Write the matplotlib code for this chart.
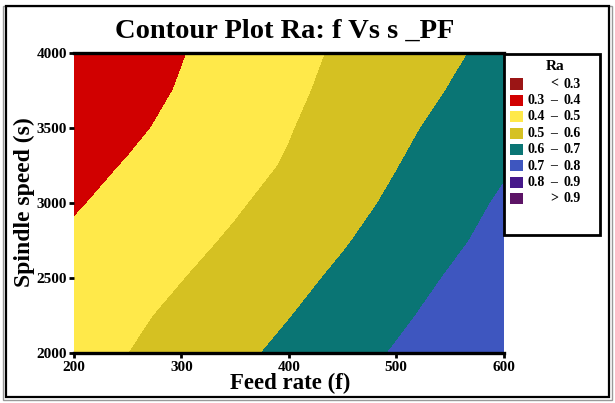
import numpy as np
import matplotlib

matplotlib.use('Agg')
import matplotlib.pyplot as plt
from matplotlib.patches import Rectangle

# feed rate (x) and spindle speed (y) grid, Ra values
feed = [200, 250, 300, 350, 400, 450, 500, 550, 600]
speed = [2000, 2250, 2500, 2750, 3000, 3250, 3500, 3750, 4000]
ra_2000 = [0.460, 0.499, 0.540, 0.580, 0.621, 0.664, 0.707, 0.750, 0.792]
ra_2250 = [0.446, 0.482, 0.519, 0.558, 0.597, 0.640, 0.684, 0.728, 0.772]
ra_2500 = [0.430, 0.463, 0.497, 0.535, 0.574, 0.616, 0.661, 0.707, 0.753]
ra_2750 = [0.413, 0.440, 0.475, 0.511, 0.551, 0.592, 0.637, 0.683, 0.730]
ra_3000 = [0.392, 0.425, 0.458, 0.490, 0.529, 0.571, 0.615, 0.663, 0.712]
ra_3250 = [0.372, 0.405, 0.439, 0.472, 0.507, 0.552, 0.597, 0.643, 0.689]
ra_3500 = [0.347, 0.384, 0.421, 0.458, 0.495, 0.537, 0.579, 0.625, 0.672]
ra_3750 = [0.329, 0.368, 0.406, 0.445, 0.483, 0.523, 0.563, 0.603, 0.644]
ra_4000 = [0.319, 0.357, 0.396, 0.435, 0.474, 0.512, 0.550, 0.587, 0.625]

levels = [0.0, 0.3, 0.4, 0.5, 0.6, 0.7, 0.8, 0.9, 1.5]
colors = ['#9b1515', '#d10000', '#ffe94a', '#d5c122',
          '#0a7574', '#3e56bf', '#46198a', '#5c1466']
legend_rows = [('', '<', '0.3'), ('0.3', '–', '0.4'), ('0.4', '–', '0.5'),
               ('0.5', '–', '0.6'), ('0.6', '–', '0.7'), ('0.7', '–', '0.8'),
               ('0.8', '–', '0.9'), ('', '>', '0.9')]

W, H = 615, 403
plt.rcParams['font.family'] = ['Liberation Serif', 'DejaVu Serif']
plt.rcParams['font.weight'] = 'bold'


def fx(px):
    return px / W


def fy(py):
    return 1 - py / H


fig = plt.figure(figsize=(W / 100, H / 100), dpi=100)
ax = fig.add_axes([fx(74), fy(353), fx(503.5) - fx(74), fy(53) - fy(353)])

ra = np.array([ra_2000, ra_2250, ra_2500, ra_2750, ra_3000,
               ra_3250, ra_3500, ra_3750, ra_4000])
ax.contourf(feed, speed, ra, levels=levels, colors=colors)

ax.set_xlim(200, 600)
ax.set_ylim(2000, 4000)
ax.set_xticks([200, 300, 400, 500, 600])
ax.set_yticks([2000, 2500, 3000, 3500, 4000])
ax.tick_params(direction='out', length=3.5, width=2, labelsize=11, pad=1.5)
ax.tick_params(axis='x', pad=2.5)
for lab in ax.get_xticklabels() + ax.get_yticklabels():
    lab.set_fontweight('bold')
ax.spines['left'].set_visible(False)
ax.spines['right'].set_visible(False)
ax.spines['top'].set_linewidth(2.4)
ax.spines['bottom'].set_linewidth(2.4)

fig.text(fx(284.5), fy(37.7), 'Contour Plot Ra: f Vs s _PF', fontsize=20.5,
         fontweight='bold', ha='center', va='baseline')
fig.text(fx(290), fy(389), 'Feed rate (f)', fontsize=16.5, fontweight='bold',
         ha='center', va='baseline')
fig.text(fx(24), fy(202), 'Spindle speed (s)', fontsize=17, fontweight='bold',
         ha='center', va='center', rotation=90)

# legend box
fig.patches.append(Rectangle((fx(504), fy(235)), fx(600) - fx(504), fy(54) - fy(235),
                             transform=fig.transFigure, fill=False,
                             edgecolor='black', linewidth=2))
fig.text(fx(555), fy(66), 'Ra', fontsize=11, fontweight='bold',
         ha='center', va='center')
for i, (lo, sep, hi) in enumerate(legend_rows):
    yc = 84 + i * 16.4
    fig.patches.append(Rectangle((fx(510), fy(yc + 5.5)), fx(13), 11 / H,
                                 transform=fig.transFigure,
                                 facecolor=colors[i], edgecolor='none'))
    fig.text(fx(545), fy(yc), lo, fontsize=10, fontweight='bold',
             ha='right', va='center')
    fig.text(fx(554), fy(yc), sep, fontsize=10, fontweight='bold',
             ha='center', va='center')
    fig.text(fx(564), fy(yc), hi, fontsize=10, fontweight='bold',
             ha='left', va='center')

# outer frame
fig.patches.append(Rectangle((fx(3), fy(400)), fx(609), 397 / H - 3 / H,
                             transform=fig.transFigure, fill=False,
                             edgecolor='#999999', linewidth=1))
fig.patches.append(Rectangle((fx(6), fy(397)), fx(603), 391 / H,
                             transform=fig.transFigure, fill=False,
                             edgecolor='black', linewidth=1.6))

fig.savefig('out.png', dpi=100)
